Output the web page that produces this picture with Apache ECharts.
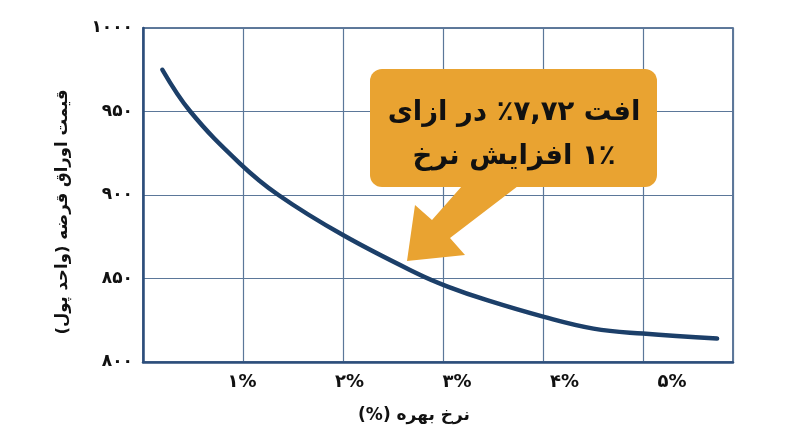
<!DOCTYPE html>
<html>
<head>
<meta charset="utf-8">
<script src="https://cdn.jsdelivr.net/npm/echarts@6/dist/echarts.min.js"></script>
<style>
html,body{margin:0;padding:0;background:#fff;}
#c{width:800px;height:447px;}
</style>
</head>
<body>
<div id="c"></div>
<script>
// interest rate (%) and bond price
const rates = [0.26, 0.52, 0.98, 1.34, 1.94, 2.63, 2.92, 3.28, 3.81, 4.27, 4.73, 5.42];
const prices = [975, 950, 919, 900, 876, 853, 845, 837, 827, 820, 817, 814];
const xTickValues = [1, 2, 3, 4, 5];
const xTickLabels = ['۱%', '۲%', '۳%', '۴%', '۵%'];
const yTickValues = [800, 850, 900, 950, 1000];
const yTickLabels = ['۸۰۰', '۸۵۰', '۹۰۰', '۹۵۰', '۱۰۰۰'];
const xTitle = '\u200Fنرخ بهره (%)\u200F';
const yTitle = '\u200Fقیمت اوراق قرضه (واحد پول)\u200F';
const calloutLines = ['\u200Fافت ۷,۷۲٪ در ازای\u200F', '\u200F۱٪ افزایش نرخ\u200F'];

const FONT = '"DejaVu Sans", "Noto Sans", sans-serif';
const gridColor = '#5B7799';
const axisColor = '#2C4E7B';
const orange = '#E9A331';

const chart = echarts.init(document.getElementById('c'), null, {renderer: 'canvas'});
chart.setOption({
  backgroundColor: '#ffffff',
  animation: false,
  grid: {left: 143, right: 67, top: 28, bottom: 85, show: true, borderColor: axisColor, borderWidth: 1.5, backgroundColor: 'transparent'},
  xAxis: [
    {
      type: 'value', min: 0, max: 5.9, interval: 1, position: 'bottom',
      axisLine: {show: true, onZero: false, lineStyle: {color: axisColor, width: 2.5}},
      axisTick: {show: false}, axisLabel: {show: false},
      splitLine: {show: true, lineStyle: {color: gridColor, width: 1.2}}
    },
    {
      type: 'value', min: 0.08, max: 5.568, position: 'bottom',
      axisLine: {show: false, onZero: false}, axisTick: {show: false},
      splitLine: {show: false},
      axisLabel: {
        show: true, customValues: xTickValues, margin: 11,
        color: '#111', fontSize: 18, fontWeight: 'bold', fontFamily: FONT,
        formatter: function (v) { const i = xTickValues.indexOf(Math.round(v)); return i >= 0 ? xTickLabels[i] : ''; }
      }
    }
  ],
  yAxis: {
    type: 'value', min: 800, max: 1000, interval: 50,
    axisLine: {show: true, lineStyle: {color: axisColor, width: 2.5}},
    axisTick: {show: false},
    splitLine: {show: true, lineStyle: {color: gridColor, width: 1.2}},
    axisLabel: {
      margin: 10, color: '#111', fontSize: 17, fontWeight: 'bold', fontFamily: FONT,
      formatter: function (v) { const i = yTickValues.indexOf(Math.round(v)); return i >= 0 ? yTickLabels[i] : ''; }
    }
  },
  series: [{
    type: 'line', xAxisIndex: 1, smooth: 0.4, symbol: 'none',
    data: rates.map((r, i) => [r, prices[i]]),
    lineStyle: {color: '#1C3F69', width: 4.5, cap: 'round'}
  }],
  graphic: [
    {type: 'rect', z: 100, shape: {x: 370, y: 69, width: 287, height: 118, r: 12}, style: {fill: orange}},
    {type: 'polygon', z: 100, shape: {points: [[462, 186], [432, 220], [415, 205], [407, 261], [465, 255], [450, 238], [518, 186]]}, style: {fill: orange}},
    {type: 'text', z: 101, x: 514, y: 113, style: {text: calloutLines[0], fill: '#111', font: 'bold 27.5px ' + FONT, textAlign: 'center', textVerticalAlign: 'middle'}},
    {type: 'text', z: 101, x: 514, y: 157, style: {text: calloutLines[1], fill: '#111', font: 'bold 27.5px ' + FONT, textAlign: 'center', textVerticalAlign: 'middle'}},
    {type: 'text', z: 101, x: 414, y: 416, style: {text: xTitle, fill: '#111', font: 'bold 17px ' + FONT, textAlign: 'center', textVerticalAlign: 'middle'}},
    {type: 'text', z: 101, x: 63, y: 212, rotation: Math.PI / 2, style: {text: yTitle, fill: '#111', font: 'bold 16.5px ' + FONT, textAlign: 'center', textVerticalAlign: 'middle'}}
  ]
});
</script>
</body>
</html>
